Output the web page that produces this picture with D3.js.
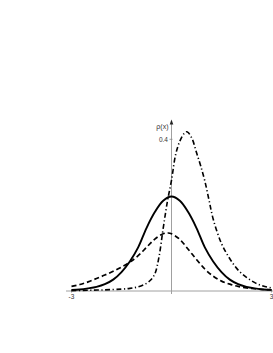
<!DOCTYPE html>
<html><head><meta charset="utf-8">
<script src="https://cdn.jsdelivr.net/npm/d3@7"></script>
<style>html,body{margin:0;padding:0;background:#fff;overflow:hidden}</style>
</head><body>
<svg id="c" width="273" height="353"></svg>
<script>
const xTicks = [-3, 3];
const yTicks = [0.4];
const yLabel = "ρ(x)";

const solidX = [-3,-2.75,-2.5,-2.25,-2,-1.75,-1.5,-1.25,-1,-0.75,-0.5,-0.25,0,0.25,0.5,0.75,1,1.25,1.5,1.75,2,2.25,2.5,2.75,3];
const solidY = [0.003,0.004,0.007,0.011,0.018,0.030,0.050,0.078,0.115,0.166,0.208,0.238,0.249,0.238,0.208,0.166,0.115,0.078,0.050,0.030,0.018,0.011,0.007,0.004,0.003];

const dashX = [-3,-2.75,-2.5,-2.25,-2,-1.75,-1.5,-1.25,-1,-0.75,-0.5,-0.25,-0.1,0,0.25,0.5,0.75,1,1.25,1.5,1.75,2,2.25,2.5,2.75,3];
const dashY = [0.012,0.017,0.024,0.033,0.042,0.052,0.063,0.076,0.093,0.115,0.137,0.151,0.153,0.151,0.136,0.110,0.083,0.058,0.039,0.026,0.018,0.012,0.008,0.006,0.004,0.003];

const dotX = [-3,-2.5,-2,-1.5,-1.25,-1,-0.75,-0.625,-0.5,-0.375,-0.25,-0.125,0,0.125,0.25,0.375,0.45,0.5,0.625,0.75,0.875,1,1.125,1.25,1.5,1.75,2,2.25,2.5,2.75,3];
const dotY = [0.001,0.002,0.003,0.005,0.007,0.011,0.020,0.029,0.045,0.090,0.165,0.235,0.292,0.360,0.395,0.415,0.420,0.418,0.400,0.365,0.330,0.290,0.240,0.190,0.125,0.085,0.055,0.036,0.022,0.013,0.008];

const svg = d3.select("#c");
const x = d3.scaleLinear().domain([-3, 3]).range([71.5, 271.5]);
const y = d3.scaleLinear().domain([0, 0.4]).range([291, 139.3]);

// axes
svg.append("line").attr("x1", 66).attr("x2", 280).attr("y1", y(0)).attr("y2", y(0))
  .attr("stroke", "#a0a0a0").attr("stroke-width", 1);
svg.append("line").attr("x1", x(0)).attr("x2", x(0)).attr("y1", 122).attr("y2", y(0) + 3)
  .attr("stroke", "#a0a0a0").attr("stroke-width", 1);
svg.append("path").attr("d", `M${x(0)-1.8},${124.5}L${x(0)},${119.5}L${x(0)+1.8},${124.5}Z`).attr("fill", "#222");

const fs = 6.5;
const labels = svg.append("g").style("opacity", 0.99);
labels.selectAll(".xt").data(xTicks).enter().append("text")
  .attr("x", d => x(d)).attr("y", y(0) + 8).attr("text-anchor", "middle")
  .attr("font-family", "Liberation Sans, Arial, sans-serif").attr("font-size", fs).attr("fill", "#333")
  .text(d => d);
svg.selectAll(".xtk").data(xTicks).enter().append("line")
  .attr("x1", d => x(d)).attr("x2", d => x(d)).attr("y1", y(0) - 1.5).attr("y2", y(0) + 1.5)
  .attr("stroke", "#888").attr("stroke-width", 0.8);
labels.selectAll(".yt").data(yTicks).enter().append("text")
  .attr("x", x(0) - 3.5).attr("y", d => y(d) + 2.2).attr("text-anchor", "end")
  .attr("font-family", "Liberation Sans, Arial, sans-serif").attr("font-size", fs).attr("fill", "#333")
  .text(d => d);
svg.selectAll(".ytk").data(yTicks).enter().append("line")
  .attr("x1", x(0) - 2).attr("x2", x(0) + 1).attr("y1", d => y(d)).attr("y2", d => y(d))
  .attr("stroke", "#888").attr("stroke-width", 0.8);
labels.append("text").attr("x", x(0) - 3).attr("y", 128.5).attr("text-anchor", "end")
  .attr("font-family", "Liberation Sans, Arial, sans-serif").attr("font-size", 7).attr("fill", "#333")
  .text(yLabel);

const line = d3.line().x(d => x(d[0])).y(d => y(d[1])).curve(d3.curveCatmullRom.alpha(0.5));
const series = [
  {xs: dashX, ys: dashY, dash: "5,3", w: 1.7},
  {xs: dotX, ys: dotY, dash: "5,2.5,1.2,2.5", w: 1.6},
  {xs: solidX, ys: solidY, dash: null, w: 1.9}
];
series.forEach(s => {
  svg.append("path").datum(d3.zip(s.xs, s.ys)).attr("d", line)
    .attr("fill", "none").attr("stroke", "#000").attr("stroke-width", s.w)
    .attr("stroke-dasharray", s.dash);
});
</script>
</body></html>
